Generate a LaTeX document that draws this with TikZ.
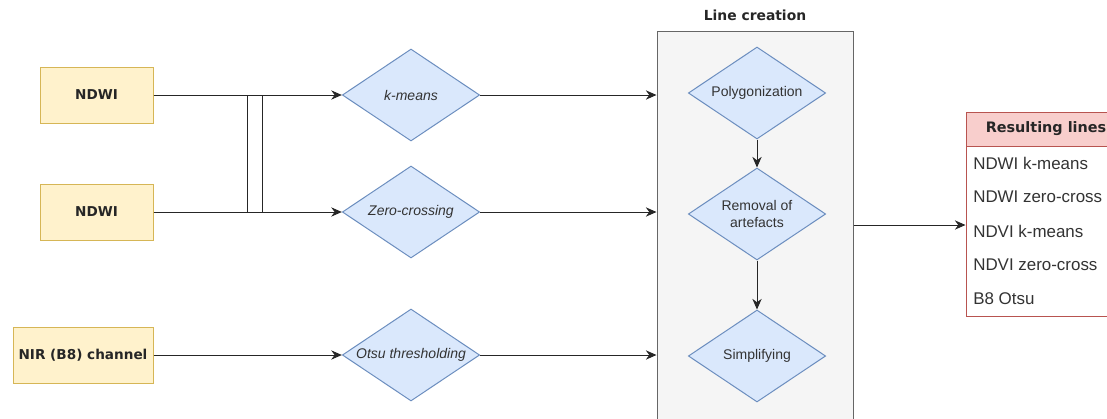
\documentclass[tikz,border=0pt]{standalone}
\usepackage{fontspec}
\setmainfont{Liberation Sans}
\newfontfamily\dejavu{DejaVu Sans}
\usetikzlibrary{arrows.meta, positioning, shapes.geometric}
\definecolor{BoxYellow}{HTML}{FFF2CC}
\definecolor{LineYellow}{HTML}{D6B656}
\definecolor{BoxBlue}{HTML}{DAE8FC}
\definecolor{LineBlue}{HTML}{6C8EBF}
\definecolor{BoxGrey}{HTML}{F5F5F5}
\definecolor{LineGrey}{HTML}{666666}
\definecolor{BoxRed}{HTML}{F8CECC}
\definecolor{LineRed}{HTML}{B85450}
\newcommand{\boldlbl}{\dejavu\bfseries\fontsize{10.2}{12}\selectfont}
\newcommand{\dialbl}{\fontsize{10.5}{12.5}\selectfont}
\newcommand{\rowlbl}{\fontsize{12.7}{14}\selectfont}

\begin{document}
\begin{tikzpicture}[x=0.75pt, y=-0.75pt,
    inputbox/.style={draw=LineYellow, fill=BoxYellow, line width=0.75pt, font=\boldlbl, text=black!85, minimum height=42pt, inner sep=2pt},
    methoddia/.style={diamond, aspect=1.5, draw=LineBlue, fill=BoxBlue, line width=0.75pt, inner sep=0pt, minimum width=103pt, minimum height=69pt, text=black!80, align=center},
    flow/.style={line width=0.75pt, draw=black!85, -{Stealth[length=8pt,width=7pt]}},
    link/.style={line width=0.75pt, draw=black!85}]
  \clip (0,0) rectangle (1107,418);

  % inputs
  \node[inputbox, minimum width=84.75pt] (ndwiA) at (96.5,95) {NDWI};
  \node[inputbox, minimum width=84.75pt] (ndwiB) at (96.5,212) {NDWI};
  \node[inputbox, minimum width=105pt] (nir) at (83,355) {NIR (B8) channel};

  % methods
  \node[methoddia, font=\dialbl\itshape] (kmeans) at (411,95) {k-means};
  \node[methoddia, font=\dialbl\itshape] (zero) at (411,212) {Zero-crossing};
  \node[methoddia, font=\dialbl\itshape] (otsu) at (411,355) {Otsu thresholding};

  \coordinate (jA) at (262,0);
  \coordinate (jB) at (247,0);
  \draw[flow] (ndwiA.east) -- (kmeans.west);
  \draw[flow] (ndwiB.east) -- (zero.west);
  \draw[flow] (nir.east) -- (otsu.west);
  \draw[link] (ndwiA.east) -| (jA |- zero);
  \draw[link] (ndwiB.east) -| (jB |- kmeans);

  % line creation
  \node[draw=LineGrey, fill=BoxGrey, line width=0.75pt, minimum width=147pt, minimum height=291pt, inner sep=0pt] (linebox) at (755,225) {};
  \node[font=\dejavu\bfseries\fontsize{10.4}{12}\selectfont, text=black!85, above=4pt of linebox.north] (linetitle) {Line creation};
  \node[methoddia, font=\dialbl] (poly) at (757,93) {Polygonization};
  \node[methoddia, font=\dialbl] (artef) at (757,214) {Removal of\\artefacts};
  \node[methoddia, font=\dialbl] (simp) at (757,356) {Simplifying};
  \draw[flow] (poly.south) -- (artef.north);
  \draw[flow] (artef.south) -- (simp.north);

  \draw[flow] (kmeans.east) -- (kmeans.east -| linebox.west);
  \draw[flow] (zero.east) -- (zero.east -| linebox.west);
  \draw[flow] (otsu.east) -- (otsu.east -| linebox.west);

  % resulting lines
  \node[draw=LineRed, line width=0.75pt, fill=white, minimum width=120pt, minimum height=153pt, inner sep=0pt] (reslines) at (1046,214) {};
  \node[draw=LineRed, fill=BoxRed, line width=0.75pt, minimum width=120pt, minimum height=25.5pt, inner sep=0pt, anchor=north, font=\dejavu\bfseries\fontsize{10.8}{12}\selectfont, text=black!85] (reshead) at (reslines.north) {Resulting lines};
  \foreach \t [count=\i] in {NDWI k-means, NDWI zero-cross, NDVI k-means, NDVI zero-cross, B8 Otsu}
    \node[anchor=west, inner sep=0pt, font=\rowlbl, text=black!80] (row\i) at (973,{146+34*\i-17}) {\t};
  \draw[flow] (linebox.east) -- (reslines.west |- linebox.east);
\end{tikzpicture}
\end{document}
